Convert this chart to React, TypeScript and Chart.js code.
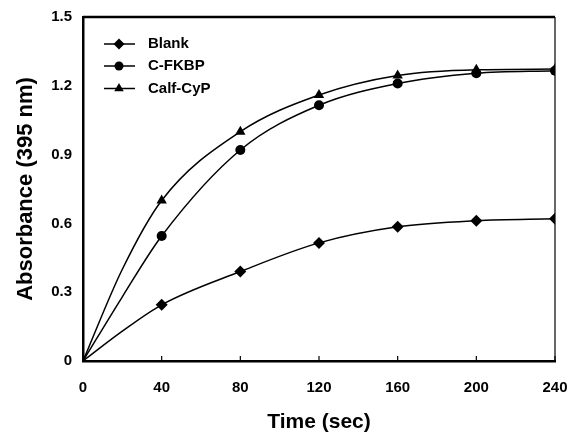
import { useEffect, useRef } from 'react';
import { Chart, registerables } from 'chart.js';

Chart.register(...registerables);

const times = [0, 20, 40, 80, 120, 160, 200, 240];
const blank = [0, 0.13, 0.245, 0.39, 0.515, 0.585, 0.612, 0.62];
const cfkbp = [0, 0.28, 0.545, 0.92, 1.115, 1.21, 1.255, 1.266];
const calfcyp = [0, 0.4, 0.7, 1.0, 1.16, 1.245, 1.27, 1.273];
const seriesNames = ['Blank', 'C-FKBP', 'Calf-CyP'];
const markerStyles = ['rectRot', 'circle', 'triangle'];
const markerSizes = [6, 5, 6];
const xTickValues = [0, 40, 80, 120, 160, 200, 240];
const yTickValues = [0, 0.3, 0.6, 0.9, 1.2, 1.5];

const FONT = "'Liberation Sans', Arial, Helvetica, sans-serif";

function drawMarker(ctx: CanvasRenderingContext2D, style: string, x: number, y: number, r: number) {
  ctx.beginPath();
  if (style === 'rectRot') {
    ctx.moveTo(x, y - r);
    ctx.lineTo(x + r, y);
    ctx.lineTo(x, y + r);
    ctx.lineTo(x - r, y);
    ctx.closePath();
  } else if (style === 'circle') {
    ctx.arc(x, y, r, 0, Math.PI * 2);
  } else {
    for (let i = 0; i < 3; i++) {
      const a = (i * 2 * Math.PI) / 3;
      const px = x + Math.sin(a) * r;
      const py = y - Math.cos(a) * r;
      if (i === 0) ctx.moveTo(px, py);
      else ctx.lineTo(px, py);
    }
    ctx.closePath();
  }
  ctx.fill();
}

const framePlugin = {
  id: 'frame',
  afterDraw(chart: any) {
    const { ctx, chartArea } = chart;
    const { left, right, top, bottom } = chartArea;
    const xs = chart.scales.x;
    ctx.save();
    ctx.strokeStyle = '#000';
    ctx.lineWidth = 2.5;
    ctx.beginPath();
    ctx.moveTo(left, top);
    ctx.lineTo(right, top);
    ctx.stroke();
    ctx.lineWidth = 1.2;
    ctx.beginPath();
    ctx.moveTo(right, top);
    ctx.lineTo(right, bottom);
    ctx.stroke();
    ctx.lineWidth = 1.2;
    xTickValues.forEach((v) => {
      if (v === 0) return;
      const px = xs.getPixelForValue(v);
      ctx.beginPath();
      ctx.moveTo(px, bottom);
      ctx.lineTo(px, bottom - 5);
      ctx.stroke();
    });
    const rowY = [top + 27, top + 49, top + 71.5];
    ctx.fillStyle = '#000';
    ctx.font = `bold 15px ${FONT}`;
    ctx.textBaseline = 'middle';
    ctx.textAlign = 'left';
    seriesNames.forEach((name, i) => {
      const y = rowY[i];
      ctx.lineWidth = 1.5;
      ctx.beginPath();
      ctx.moveTo(left + 21, y);
      ctx.lineTo(left + 52, y);
      ctx.stroke();
      drawMarker(ctx, markerStyles[i], left + 36, y, markerSizes[i] - 0.5);
      ctx.fillText(name, left + 65, y);
    });
    ctx.restore();
  },
};

export default function App() {
  const ref = useRef<HTMLCanvasElement>(null);

  useEffect(() => {
    document.body.style.margin = '0';
    const canvas = ref.current;
    if (!canvas) return;
    const seriesValues = [blank, cfkbp, calfcyp];
    const chart = new Chart(canvas, {
      type: 'line',
      data: {
        datasets: seriesValues.map((vals, i) => ({
          label: seriesNames[i],
          data: times.map((t, j) => ({ x: t, y: vals[j] })),
          borderColor: '#000',
          backgroundColor: '#000',
          borderWidth: 1.5,
          pointStyle: markerStyles[i] as any,
          pointRadius: times.map((t) => (t > 0 && t % 40 === 0 ? markerSizes[i] : 0)),
          pointBorderWidth: 0,
          pointBackgroundColor: '#000',
          cubicInterpolationMode: 'monotone' as const,
          fill: false,
        })),
      },
      options: {
        responsive: false,
        animation: false,
        devicePixelRatio: 1,
        layout: { padding: { top: 17, right: 17, left: 0, bottom: 0 } },
        plugins: {
          legend: { display: false },
          tooltip: { enabled: false },
        },
        scales: {
          x: {
            type: 'linear',
            min: 0,
            max: 240,
            afterBuildTicks: (scale: any) => {
              scale.ticks = xTickValues.map((v) => ({ value: v }));
            },
            afterFit: (scale: any) => {
              scale.height = 78;
              scale.paddingLeft = 0;
              scale.paddingRight = 0;
            },
            grid: { display: false, drawTicks: false },
            border: { display: true, color: '#000', width: 2.5 },
            ticks: {
              padding: 18,
              color: '#000',
              font: { family: FONT, size: 15, weight: 'bold' },
              maxRotation: 0,
            },
            title: {
              display: true,
              text: 'Time (sec)',
              color: '#000',
              font: { family: FONT, size: 21, weight: 'bold' },
              padding: { top: 0, bottom: 4 },
            },
          },
          y: {
            type: 'linear',
            min: 0,
            max: 1.5,
            afterBuildTicks: (scale: any) => {
              scale.ticks = yTickValues.map((v) => ({ value: v }));
            },
            afterFit: (scale: any) => {
              scale.width = 83;
              scale.paddingTop = 0;
              scale.paddingBottom = 0;
            },
            grid: { display: false, drawTicks: false },
            border: { display: true, color: '#000', width: 2.5 },
            ticks: {
              padding: 11,
              color: '#000',
              font: { family: FONT, size: 15, weight: 'bold' },
              callback: (v: any) => (Number(v) === 0 ? '0' : Number(v).toFixed(1)),
            },
            title: {
              display: true,
              text: 'Absorbance (395 nm)',
              color: '#000',
              font: { family: FONT, size: 22, weight: 'bold' },
              padding: { top: 13, bottom: 0 },
            },
          },
        },
      },
      plugins: [framePlugin],
    });
    return () => chart.destroy();
  }, []);

  return (
    <div style={{ width: 572, height: 439, background: '#fff' }}>
      <canvas ref={ref} width={572} height={439} />
    </div>
  );
}
